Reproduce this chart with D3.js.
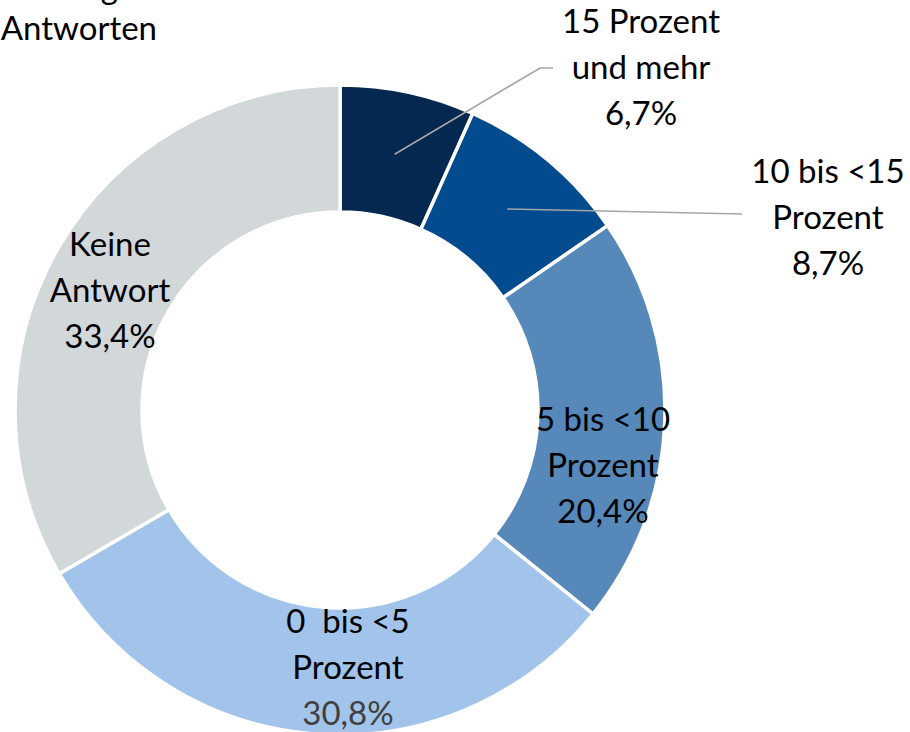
<!DOCTYPE html>
<html><head><meta charset="utf-8">
<script src="https://cdn.jsdelivr.net/npm/d3@7"></script>
<style>body{margin:0;background:#fff}svg{display:block}</style>
</head><body><svg id="c" width="910" height="732"></svg>
<script>
const categories = ["15 Prozent und mehr", "10 bis <15 Prozent", "5 bis <10 Prozent", "0 bis <5 Prozent", "Keine Antwort"];
const values = [6.7, 8.7, 20.4, 30.8, 33.4];
const labelLines = [
  ["15 Prozent", "und mehr", "6,7%"],
  ["10 bis <15", "Prozent", "8,7%"],
  ["5 bis <10", "Prozent", "20,4%"],
  ["0\u00a0 bis <5", "Prozent", "30,8%"],
  ["Keine", "Antwort", "33,4%"]
];
const colors = ["#04284f", "#034b8f", "#5688ba", "#a2c4ea", "#d2d7da"];
const titleLines = ["Verteilung", "Antworten"];

const svg = d3.select("#c");
const W = 910, H = 732;
const cx = 340, cy = 410, R = 325, r = 198;
const font = "Lato, 'Open Sans', sans-serif";
const fs = 33, lh = 46;

// partially cut title at top-left
svg.append("text").attr("x", 118).attr("y", -1).attr("text-anchor", "end")
  .attr("font-family", font).attr("font-size", fs).attr("fill", "#000").text(titleLines[0]);
svg.append("text").attr("x", 157).attr("y", 40).attr("text-anchor", "end")
  .attr("font-family", font).attr("font-size", fs).attr("fill", "#000").text(titleLines[1]);

const pie = d3.pie().sort(null).value(d => d);
const arcs = pie(values);
const arc = d3.arc().innerRadius(r).outerRadius(R);
const g = svg.append("g").attr("transform", `translate(${cx},${cy})`);
g.selectAll("path").data(arcs).join("path")
  .attr("d", arc).attr("fill", (d, i) => colors[i])
  .attr("stroke", "#fff").attr("stroke-width", 3.5).attr("stroke-linejoin", "miter");

// label layout (center x, first baseline y), optional leader start points
const labelPos = [
  {x: 641, y: 33, leader: [[553, 68], [540, 68]]},
  {x: 828, y: 183, leader: [[742, 214]]},
  {x: 603, y: 431},
  {x: 348, y: 633},
  {x: 110, y: 256}
];
arcs.forEach((a, i) => {
  const p = labelPos[i];
  if (p.leader) {
    const c = arc.centroid(a);
    const pts = p.leader.concat([[c[0] + cx, c[1] + cy]]);
    svg.append("path").attr("d", d3.line()(pts)).attr("fill", "none")
      .attr("stroke", "#a6a6a6").attr("stroke-width", 1.6);
  }
  labelLines[i].forEach((t, j) => {
    svg.append("text").attr("x", p.x).attr("y", p.y + j * lh)
      .attr("text-anchor", "middle").attr("font-family", font).attr("font-size", fs)
      .attr("fill", (i === 3 && j === 2) ? "#404040" : "#000").text(t);
  });
});
</script></body></html>
